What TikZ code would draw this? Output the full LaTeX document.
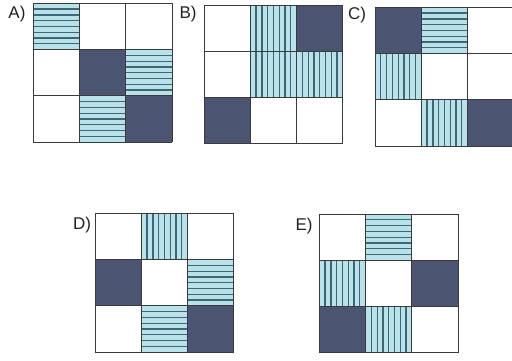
\documentclass[tikz,border=0pt]{standalone}
\usepackage{fontspec}
\setmainfont{Liberation Sans}
\definecolor{darkc}{HTML}{4B5572}
\definecolor{lightc}{HTML}{B9E1E9}
\definecolor{hatchc}{HTML}{3F6675}
\definecolor{gridc}{HTML}{3A3A3A}
\definecolor{textc}{HTML}{222222}
\def\cs{46.3}
\newcommand{\cellD}[2]{\fill[darkc] ({#2*\cs},{#1*\cs}) rectangle ++(\cs,\cs);}
\newcommand{\cellH}[2]{\fill[lightc] ({#2*\cs},{#1*\cs}) rectangle ++(\cs,\cs);
  \foreach \k in {1,...,7}{\draw[hatchline] ({#2*\cs},{#1*\cs+\k*\cs/8}) -- ++(\cs,0);}}
\newcommand{\cellV}[2]{\fill[lightc] ({#2*\cs},{#1*\cs}) rectangle ++(\cs,\cs);
  \foreach \k in {1,...,7}{\draw[hatchline] ({#2*\cs+\k*\cs/8},{#1*\cs}) -- ++(0,\cs);}}
\newcommand{\panelgrid}[3]{\begin{scope}[shift={(#1,#2)}]
  \foreach \r/\c/\t in {#3}{\csname cell\t\endcsname{\r}{\c}}
  \foreach \i in {0,1,2,3}{
    \draw[gridline] ({\i*\cs},0) -- ({\i*\cs},{3*\cs});
    \draw[gridline] (0,{\i*\cs}) -- ({3*\cs},{\i*\cs});}
  \end{scope}}
\begin{document}
\begin{tikzpicture}[x=1pt,y=-1pt,
  hatchline/.style={hatchc,line width=1.3pt},
  gridline/.style={gridc,line width=0.9pt},
  lbl/.style={text=textc,font=\fontsize{17}{17}\selectfont,inner sep=0pt}]
\useasboundingbox (0,0) rectangle (512,361);
\fill[white] (0,0) rectangle (512,361);
\panelgrid{33.3}{3.3}{0/0/H,1/1/D,1/2/H,2/1/H,2/2/D}
\panelgrid{204}{5}{0/1/V,0/2/D,1/1/V,1/2/V,2/0/D}
\panelgrid{375}{7.3}{0/0/D,0/1/H,1/0/V,2/1/V,2/2/D}
\panelgrid{95}{213.3}{0/1/V,1/0/D,1/2/H,2/1/H,2/2/D}
\panelgrid{319.3}{214}{0/1/H,1/0/V,1/2/D,2/0/D,2/1/V}
\node[lbl] (la) at (17,14) {A)};
\node[lbl] (lb) at (188,14) {B)};
\node[lbl] (lc) at (357,15) {C)};
\node[lbl] (ld) at (82,225) {D)};
\node[lbl] (le) at (304,226) {E)};
\end{tikzpicture}
\end{document}
